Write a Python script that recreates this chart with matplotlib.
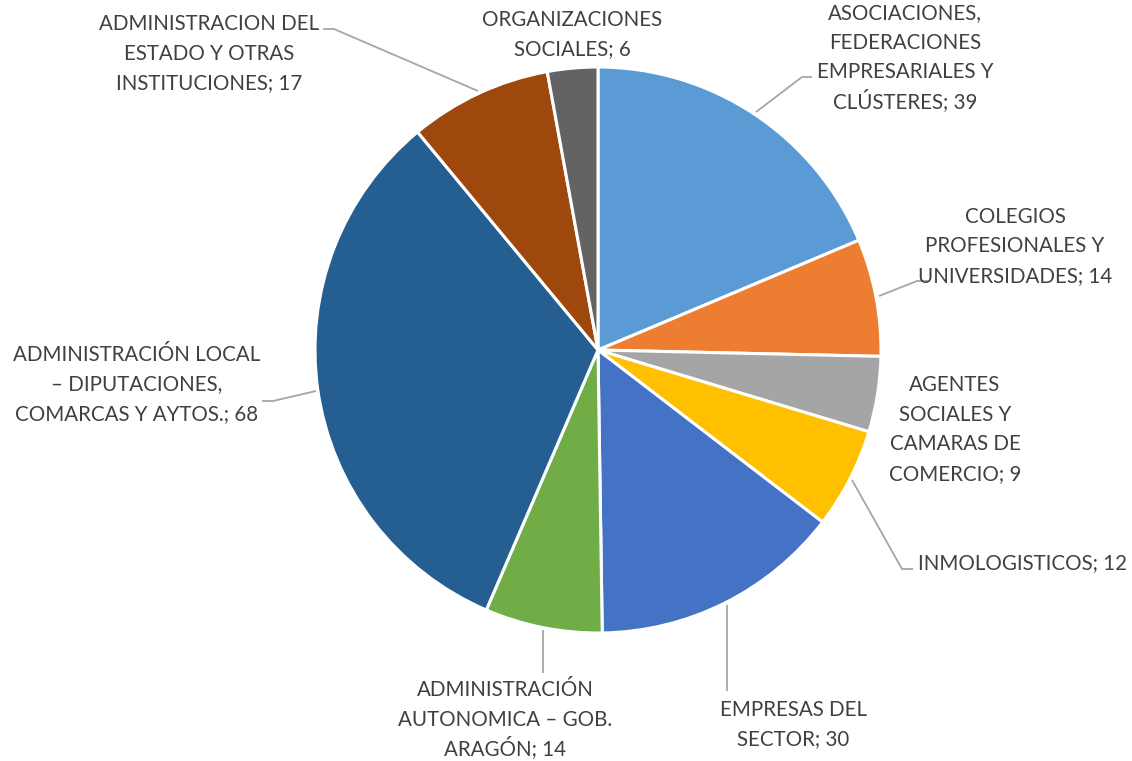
import matplotlib
matplotlib.use("Agg")
import matplotlib.pyplot as plt

# data
labels = [
    "ASOCIACIONES,\nFEDERACIONES\nEMPRESARIALES Y\nCLÚSTERES; 39",
    "COLEGIOS\nPROFESIONALES Y\nUNIVERSIDADES; 14",
    "AGENTES\nSOCIALES Y\nCAMARAS DE\nCOMERCIO; 9",
    "INMOLOGISTICOS; 12",
    "EMPRESAS DEL\nSECTOR; 30",
    "ADMINISTRACIÓN\nAUTONOMICA – GOB.\nARAGÓN; 14",
    "ADMINISTRACIÓN LOCAL\n– DIPUTACIONES,\nCOMARCAS Y AYTOS.; 68",
    "ADMINISTRACION DEL\nESTADO Y OTRAS\nINSTITUCIONES; 17",
    "ORGANIZACIONES\nSOCIALES; 6",
]
values = [39, 14, 9, 12, 30, 14, 68, 17, 6]
colors = ["#5B9BD5", "#ED7D31", "#A5A5A5", "#FFC000", "#4472C4",
          "#70AD47", "#255E91", "#9E480E", "#636363"]

# label centres (pixels, from top-left) and leader lines
label_pos = [(905, 56), (1015, 245), (955, 428), (1022, 562), (793, 723),
             (505, 718), (137, 383), (209, 52), (572, 33)]
leaders = [
    [(812, 77), (802, 77), (756, 112)],
    [(928, 281), (917, 281), (879, 296)],
    None,
    [(913, 569), (902, 569), (852, 480)],
    [(727, 691), (727, 605)],
    [(543, 673), (543, 630)],
    [(262, 401), (273, 401), (316, 391)],
    [(323, 29), (334, 29), (478, 91)],
    None,
]
line_step = 29.5

W, H = 1132, 761
fig = plt.figure(figsize=(W / 100, H / 100), dpi=100)
ax = fig.add_axes([0, 0, 1, 1])

ax.pie(values, colors=colors, startangle=90, counterclock=False,
       center=(598, H - 350), radius=283,
       wedgeprops=dict(edgecolor="white", linewidth=2.2))

for lab, (x, y), line in zip(labels, label_pos, leaders):
    rows = lab.split("\n")
    n = len(rows)
    for i, row in enumerate(rows):
        yc = y + (i - (n - 1) / 2) * line_step
        # baseline placed so the caps sit centred on yc
        ax.text(x, H - (yc + 7.5), row, ha="center", va="baseline",
                fontsize=14.8, family="Lato", color="#404040")
    if line:
        ax.plot([p[0] for p in line], [H - p[1] for p in line],
                color="#A6A6A6", lw=1.3, solid_capstyle="butt")

ax.set_xlim(0, W)
ax.set_ylim(0, H)
ax.set_aspect("equal")
ax.axis("off")

fig.savefig("out.png", dpi=100)
